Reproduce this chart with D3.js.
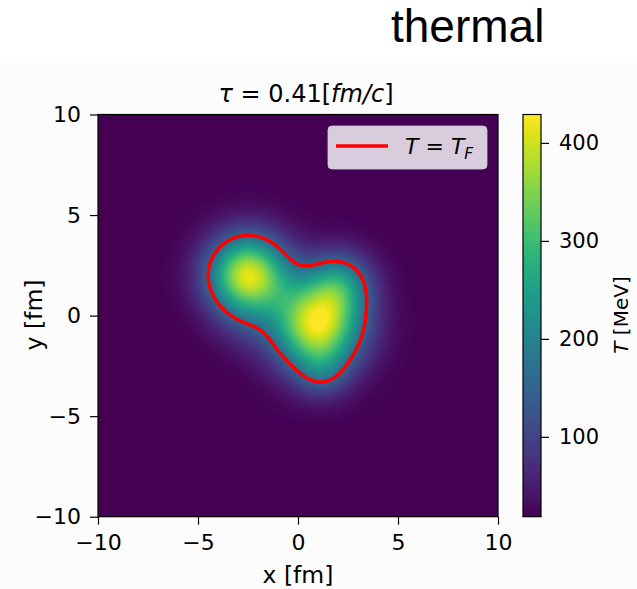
<!DOCTYPE html>
<html>
<head>
<meta charset="utf-8">
<script src="https://cdn.jsdelivr.net/npm/d3@7"></script>
<style>
body { margin: 0; background: #fff; }
svg { display: block; font-family: "DejaVu Sans", sans-serif; }
</style>
</head>
<body>
<svg id="chart" width="637" height="589"></svg>
<script>
// axis ticks
const xTicks = [-10, -5, 0, 5, 10];
const yTicks = [-10, -5, 0, 5, 10];
const cbTicks = [100, 200, 300, 400];

// temperature range of the colour bar [MeV] and freeze-out temperature
const tMin = 18.5;
const tMax = 429;
const tF = 155;

// hot spots: centre [fm], peak [MeV], width [fm]
const hotX = [-2.5, 0.95, 2.1, 1.2, -2.8];
const hotY = [2.0, -0.45, 1.6, -2.8, -0.5];
const hotAmp = [385, 395, 155, 75, 22];
const hotWidth = [1.38, 1.55, 1.1, 0.9, 1.0];

const n = 200; // grid cells per side

const svg = d3.select('#chart');

// plot area
const plotL = 98, plotR = 498, plotT = 114.5, plotB = 516.7;

const x = d3.scaleLinear().domain([-10, 10]).range([plotL, plotR]);
const y = d3.scaleLinear().domain([-10, 10]).range([plotB, plotT]);
const color = d3.scaleSequential(d3.interpolateViridis).domain([tMin, tMax]);

// slightly grey photo background under the figure
svg.append('rect').attr('x', 0).attr('y', 63).attr('width', 637).attr('height', 526).attr('fill', '#fcfcfc');

svg.append('text')
    .attr('x', 391).attr('y', 42)
    .attr('font-family', '"Liberation Sans", Arial, sans-serif')
    .attr('font-size', 46)
    .attr('fill', '#000')
    .text('thermal');

// build temperature grid
const values = new Float64Array(n * n);
for (let j = 0; j < n; j++) {
    const gy = 10 - (j + 0.5) * 20 / n;
    for (let i = 0; i < n; i++) {
        const gx = -10 + (i + 0.5) * 20 / n;
        let t = tMin;
        for (let k = 0; k < hotX.length; k++) {
            const dx = gx - hotX[k], dy = gy - hotY[k];
            t += hotAmp[k] * Math.exp(-(dx * dx + dy * dy) / (2 * hotWidth[k] * hotWidth[k]));
        }
        values[j * n + i] = t;
    }
}

// paint heat map into a canvas, then put it in the svg
const canvas = document.createElement('canvas');
canvas.width = n; canvas.height = n;
const ctx = canvas.getContext('2d');
const img = ctx.createImageData(n, n);
for (let p = 0; p < n * n; p++) {
    const c = d3.rgb(color(Math.min(values[p], tMax)));
    img.data[p * 4] = c.r;
    img.data[p * 4 + 1] = c.g;
    img.data[p * 4 + 2] = c.b;
    img.data[p * 4 + 3] = 255;
}
ctx.putImageData(img, 0, 0);

svg.append('image')
    .attr('x', plotL).attr('y', plotT)
    .attr('width', plotR - plotL).attr('height', plotB - plotT)
    .attr('preserveAspectRatio', 'none')
    .attr('href', canvas.toDataURL());

// T = T_F contour
const contours = d3.contours().size([n, n]).thresholds([tF])(values);
const proj = d3.geoTransform({
    point: function(px, py) {
        this.stream.point(x(-10 + px * 20 / n), y(10 - py * 20 / n));
    }
});
svg.append('g')
    .selectAll('path')
    .data(contours)
    .enter().append('path')
    .attr('d', d3.geoPath(proj))
    .attr('fill', 'none')
    .attr('stroke', '#ff0000')
    .attr('stroke-width', 3.5)
    .attr('stroke-linejoin', 'round');

// frame
svg.append('rect')
    .attr('x', plotL).attr('y', plotT)
    .attr('width', plotR - plotL).attr('height', plotB - plotT)
    .attr('fill', 'none').attr('stroke', '#000').attr('stroke-width', 1.2);

// axes
const xAxis = svg.append('g')
    .attr('transform', `translate(0,${plotB})`)
    .call(d3.axisBottom(x).tickValues(xTicks).tickSize(8).tickPadding(10).tickFormat(d3.format('d')));
const yAxis = svg.append('g')
    .attr('transform', `translate(${plotL},0)`)
    .call(d3.axisLeft(y).tickValues(yTicks).tickSize(8).tickPadding(9).tickFormat(d3.format('d')));
[xAxis, yAxis].forEach(a => {
    a.select('.domain').remove();
    a.selectAll('line').attr('stroke', '#000').attr('stroke-width', 1.2);
    a.selectAll('text').attr('font-size', 22).attr('fill', '#000').attr('font-family', '"DejaVu Sans", sans-serif');
});

svg.append('text')
    .attr('x', (plotL + plotR) / 2).attr('y', 583)
    .attr('text-anchor', 'middle').attr('font-size', 23.5)
    .text('x [fm]');
svg.append('text')
    .attr('transform', `translate(42,315) rotate(-90)`)
    .attr('text-anchor', 'middle').attr('font-size', 23.5)
    .text('y [fm]');

// title
const title = svg.append('text')
    .attr('x', 306).attr('y', 101.5)
    .attr('text-anchor', 'middle').attr('font-size', 24);
title.append('tspan').attr('font-style', 'italic').text('τ');
title.append('tspan').text(' = 0.41[');
title.append('tspan').attr('font-style', 'italic').text('fm/c');
title.append('tspan').text(']');

// legend
const legend = svg.append('g');
legend.append('rect')
    .attr('x', 328).attr('y', 126).attr('width', 159).attr('height', 43)
    .attr('rx', 4)
    .attr('fill', '#fff').attr('fill-opacity', 0.8)
    .attr('stroke', '#ccc').attr('stroke-opacity', 0.8);
legend.append('line')
    .attr('x1', 336).attr('x2', 388).attr('y1', 146).attr('y2', 146)
    .attr('stroke', '#ff0000').attr('stroke-width', 3.5);
const lt = legend.append('text').attr('x', 405).attr('y', 154).attr('font-size', 22);
lt.append('tspan').attr('font-style', 'italic').text('T');
lt.append('tspan').text(' = ');
lt.append('tspan').attr('font-style', 'italic').text('T');
lt.append('tspan').attr('font-style', 'italic').attr('font-size', 15.5).attr('dy', 5).text('F');

// colour bar
const cbLeft = 523, cbRight = 541;
const cb = d3.scaleLinear().domain([tMin, tMax]).range([plotB, plotT]);
const defs = svg.append('defs');
const grad = defs.append('linearGradient')
    .attr('id', 'viridis')
    .attr('x1', '0%').attr('y1', '100%').attr('x2', '0%').attr('y2', '0%');
d3.range(0, 1.0001, 0.05).forEach(s => {
    grad.append('stop')
        .attr('offset', `${s * 100}%`)
        .attr('stop-color', d3.interpolateViridis(s));
});
svg.append('rect')
    .attr('x', cbLeft).attr('y', plotT)
    .attr('width', cbRight - cbLeft).attr('height', plotB - plotT)
    .attr('fill', 'url(#viridis)')
    .attr('stroke', '#000').attr('stroke-width', 1.2);

const cbAxis = svg.append('g')
    .attr('transform', `translate(${cbRight},0)`)
    .call(d3.axisRight(cb).tickValues(cbTicks).tickSize(8).tickPadding(10));
cbAxis.select('.domain').remove();
cbAxis.selectAll('line').attr('stroke', '#000').attr('stroke-width', 1.2);
cbAxis.selectAll('text').attr('font-size', 21).attr('fill', '#000').attr('font-family', '"DejaVu Sans", sans-serif');

const cbLabel = svg.append('text')
    .attr('transform', `translate(628,315) rotate(-90)`)
    .attr('text-anchor', 'middle').attr('font-size', 20);
cbLabel.append('tspan').attr('font-style', 'italic').text('T');
cbLabel.append('tspan').text(' [MeV]');
</script>
</body>
</html>
